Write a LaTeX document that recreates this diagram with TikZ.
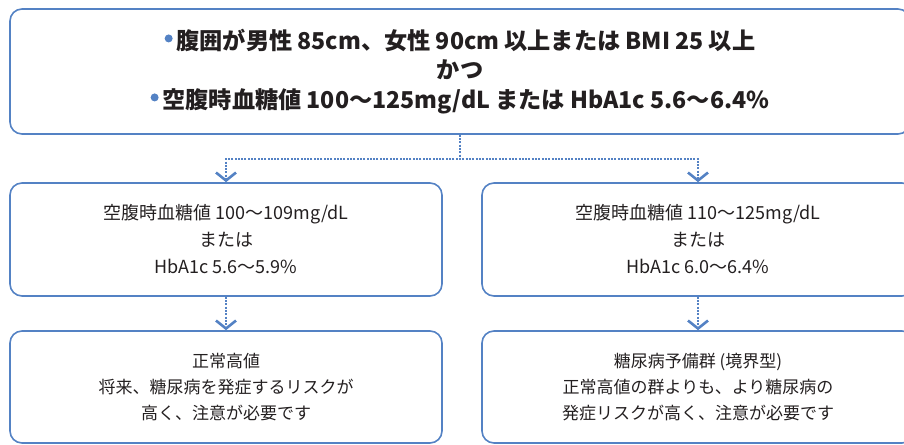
\documentclass[tikz,border=0pt]{standalone}
\usepackage{fontspec}
\setmainfont{Noto Sans CJK JP}
\usetikzlibrary{arrows.meta,positioning}
\definecolor{boxblue}{RGB}{84,130,196}
\definecolor{inktext}{RGB}{35,31,32}
\newcommand{\bulletdot}{{\color{boxblue}\raisebox{0.3em}{\tikz\fill (0,0) circle (4pt);}}\,}
\newcommand{\gap}{\hspace{0.22em}}

\begin{document}
\begin{tikzpicture}[x=1pt,y=-1pt,
  box/.style={draw=boxblue, line width=1.6pt, rounded corners=12pt, align=center, text=inktext, inner sep=0pt},
  condtext/.style={font=\bfseries\fontsize{23.2}{29.5}\selectfont},
  rangetext/.style={font=\fontsize{18}{27}\selectfont},
  verdicttext/.style={font=\fontsize{17}{26}\selectfont},
  flow/.style={draw=boxblue, line width=2.2pt, dash pattern=on 2pt off 1.3pt, -{Straight Barb[length=8pt,width=20pt,line width=2.6pt]}}
]
\useasboundingbox (0,0) rectangle (904,444);

% condition box
\node[box, condtext, minimum width=900pt, minimum height=125pt] (cond) at (460,71.5)
  {\bulletdot 腹囲が男性\gap 85cm、女性\gap 90cm\gap 以上または\gap BMI 25\gap 以上\\
   かつ\\
   \bulletdot 空腹時血糖値\gap 100～125mg/dL\gap または\gap HbA1c 5.6～6.4\%};

% ranges
\node[box, rangetext, minimum width=432pt, minimum height=113pt] (lowrange) at (226,239.5)
  {空腹時血糖値 100～109mg/dL\\ または\\ HbA1c 5.6～5.9\%};
\node[box, rangetext, minimum width=432pt, minimum height=113pt] (highrange) at (698,239.5)
  {空腹時血糖値 110～125mg/dL\\ または\\ HbA1c 6.0～6.4\%};

% verdicts
\node[box, verdicttext, minimum width=432pt, minimum height=112pt] (normalhigh) at (226,387)
  {正常高値\\ 将来、糖尿病を発症するリスクが\\ 高く、注意が必要です};
\node[box, verdicttext, minimum width=432pt, minimum height=112pt] (borderline) at (698,387)
  {糖尿病予備群 (境界型)\\ 正常高値の群よりも、より糖尿病の\\ 発症リスクが高く、注意が必要です};

\draw[flow] (cond.south) -- ++(0,24) -| (lowrange.north);
\draw[flow] (cond.south) -- ++(0,24) -| (highrange.north);
\draw[flow] (lowrange.south) -- (normalhigh.north);
\draw[flow] (highrange.south) -- (borderline.north);
\end{tikzpicture}
\end{document}
